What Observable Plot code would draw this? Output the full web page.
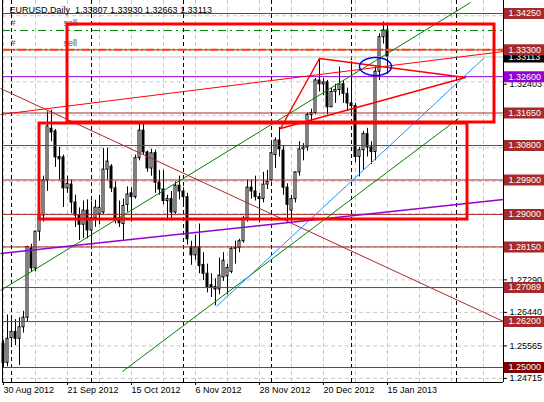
<!DOCTYPE html>
<html><head><meta charset="utf-8">
<script src="https://cdn.jsdelivr.net/npm/d3@7"></script>
<script src="https://cdn.jsdelivr.net/npm/@observablehq/plot@0.6"></script>
<style>
html,body{margin:0;padding:0;background:#fff;}
#chart svg{display:block;}
</style></head><body><div id="chart"></div>
<script>
// ---- data ----
const dates = ["2012-08-30","2012-08-31","2012-09-03","2012-09-04","2012-09-05","2012-09-06","2012-09-07",
"2012-09-10","2012-09-11","2012-09-12","2012-09-13","2012-09-14","2012-09-17","2012-09-18","2012-09-19","2012-09-20","2012-09-21",
"2012-09-24","2012-09-25","2012-09-26","2012-09-27","2012-09-28","2012-10-01","2012-10-02","2012-10-03","2012-10-04","2012-10-05",
"2012-10-08","2012-10-09","2012-10-10","2012-10-11","2012-10-12","2012-10-15","2012-10-16","2012-10-17","2012-10-18","2012-10-19",
"2012-10-22","2012-10-23","2012-10-24","2012-10-25","2012-10-26","2012-10-29","2012-10-30","2012-10-31","2012-11-01","2012-11-02",
"2012-11-05","2012-11-06","2012-11-07","2012-11-08","2012-11-09","2012-11-12","2012-11-13","2012-11-14","2012-11-15","2012-11-16",
"2012-11-19","2012-11-20","2012-11-21","2012-11-22","2012-11-23","2012-11-26","2012-11-27","2012-11-28","2012-11-29","2012-11-30",
"2012-12-03","2012-12-04","2012-12-05","2012-12-06","2012-12-07","2012-12-10","2012-12-11","2012-12-12","2012-12-13","2012-12-14",
"2012-12-17","2012-12-18","2012-12-19","2012-12-20","2012-12-21","2012-12-24","2012-12-26","2012-12-27","2012-12-28","2012-12-31",
"2013-01-02","2013-01-03","2013-01-04","2013-01-07","2013-01-08","2013-01-09","2013-01-10","2013-01-11","2013-01-14","2013-01-15"];
const open  = [1.2562,1.2512,1.2577,1.2593,1.2575,1.2605,1.2630,
1.2811,1.2759,1.2855,1.2897,1.2989,1.3124,1.3117,1.3050,1.3049,1.2968,
1.2978,1.2931,1.2897,1.2873,1.2910,1.2858,1.2890,1.2900,1.2905,1.3017,
1.3025,1.2968,1.2890,1.2875,1.2925,1.2955,1.2945,1.3047,1.3119,1.3062,
1.3020,1.3060,1.2983,1.2965,1.2935,1.2940,1.2905,1.2975,1.2960,1.2945,
1.2814,1.2793,1.2814,1.2768,1.2745,1.2715,1.2710,1.2704,1.2735,1.2738,
1.2750,1.2810,1.2812,1.2830,1.2889,1.2970,1.2960,1.2945,1.2940,1.2978,
1.2990,1.3055,1.3093,1.3067,1.2970,1.2910,1.2940,1.3010,1.3070,1.3075,
1.3160,1.3165,1.3250,1.3240,1.3245,1.3180,1.3220,1.3225,1.3240,1.3215,
1.3190,1.3183,1.3050,1.3068,1.3110,1.3075,1.3063,1.3273,1.3363,1.33807];
const high  = [1.2570,1.2637,1.2625,1.2625,1.2630,1.2647,1.2817,
1.2822,1.2856,1.2936,1.3000,1.3168,1.3172,1.3122,1.3075,1.3055,1.3000,
1.2990,1.2950,1.2917,1.2935,1.2938,1.2935,1.2937,1.2950,1.3072,1.3073,
1.3030,1.2985,1.2935,1.2940,1.2972,1.2970,1.3055,1.3140,1.3139,1.3066,
1.3070,1.3068,1.3015,1.3015,1.2950,1.2960,1.2985,1.3000,1.2970,1.2955,
1.2830,1.2845,1.2875,1.2800,1.2770,1.2745,1.2732,1.2786,1.2800,1.2770,
1.2815,1.2830,1.2835,1.2895,1.2990,1.2990,1.3000,1.2955,1.3010,1.3015,
1.3085,1.3100,1.3127,1.3080,1.2980,1.2950,1.3010,1.3090,1.3085,1.3165,
1.3175,1.3255,1.3308,1.3255,1.3250,1.3230,1.3240,1.3285,1.3250,1.3230,
1.3299,1.3190,1.3075,1.3117,1.3125,1.3090,1.3285,1.3372,1.3403,1.33930];
const low   = [1.2500,1.2502,1.2563,1.2557,1.2505,1.2590,1.2620,
1.2748,1.2750,1.2830,1.2880,1.2960,1.3090,1.3023,1.2989,1.2918,1.2955,
1.2902,1.2866,1.2832,1.2837,1.2836,1.2813,1.2866,1.2873,1.2900,1.2990,
1.2957,1.2875,1.2866,1.2830,1.2906,1.2880,1.2940,1.3040,1.3055,1.3010,
1.3000,1.2955,1.2950,1.2925,1.2883,1.2883,1.2900,1.2938,1.2920,1.2820,
1.2767,1.2780,1.2745,1.2727,1.2695,1.2683,1.2661,1.2690,1.2725,1.2690,
1.2745,1.2770,1.2800,1.2825,1.2880,1.2940,1.2935,1.2878,1.2930,1.2965,
1.2985,1.3020,1.3050,1.2950,1.2877,1.2880,1.2930,1.3000,1.3040,1.3065,
1.3135,1.3160,1.3220,1.3210,1.3160,1.3180,1.3190,1.3210,1.3190,1.3170,
1.3166,1.3035,1.2998,1.3015,1.3050,1.3030,1.3040,1.3250,1.3345,1.32663];
const close = [1.2512,1.2575,1.2593,1.2575,1.2605,1.2630,1.2815,
1.2759,1.2855,1.2897,1.2989,1.3130,1.3114,1.3049,1.3044,1.2968,1.2980,
1.2931,1.2897,1.2873,1.2910,1.2858,1.2890,1.2918,1.2917,1.3017,1.3038,
1.2968,1.2884,1.2877,1.2922,1.2952,1.2945,1.3047,1.3119,1.3062,1.3020,
1.3060,1.2983,1.2965,1.2935,1.2940,1.2905,1.2975,1.2960,1.2945,1.2835,
1.2793,1.2814,1.2765,1.2745,1.2710,1.2710,1.2704,1.2740,1.2779,1.2760,
1.2810,1.2812,1.2830,1.2889,1.2970,1.2960,1.2945,1.2940,1.2978,1.2985,
1.3060,1.3093,1.3070,1.2970,1.2925,1.2940,1.3010,1.3070,1.3075,1.3160,
1.3165,1.3250,1.3240,1.3245,1.3180,1.3220,1.3225,1.3240,1.3215,1.3190,
1.3183,1.3050,1.3068,1.3110,1.3075,1.3063,1.3273,1.3363,1.3381,1.33113];

const headerText = "EURUSD,Daily  1.33807 1.33930 1.32663 1.33113";
const dateTickIdx = [0, 16, 32, 48, 64, 80, 96];
const gridIdx = [0, 8, 16, 24, 32, 40, 48, 56, 64, 72, 80, 88, 96, 104, 112, 120];
const separatorIdx = [2, 22, 45, 67, 87, 113.25];
const gridPrices = [1.24715, 1.25565, 1.26440, 1.27290, 1.28150, 1.29015, 1.29865, 1.30740, 1.31590, 1.32465, 1.33315, 1.34190];
const axisLabelPrices = [1.24715, 1.25565, 1.26440, 1.27290, 1.32403];
const brownLevels = [1.34250, 1.33300, 1.31650, 1.30800, 1.29900, 1.29000, 1.28150, 1.27089, 1.26200, 1.25000];
const brownLabelLevels = [1.34250, 1.33300, 1.31650, 1.30800, 1.29900, 1.29000, 1.28150, 1.27089, 1.26200];
const maroonLabelLevels = [1.25000];
const purpleLevel = [1.32600];
const bidPrice = [1.33113];
const sellLimitLevel = [1.33807];
const sellStopLevel = [1.33300];

// drawn objects (index, price)
const brownTrend = [[-0.75, 1.32290], [125, 1.26202]];
const redTrend = [[-0.75, 1.31611], [125, 1.33257]];
const redTriangle = [[69.25, 1.31245], [79, 1.33074], [115.5, 1.32578], [69.25, 1.31245]];
const greenTrend1 = [[-0.75, 1.27012], [116.75, 1.34537]];
const greenTrend2 = [[29.75, 1.24895], [113.75, 1.31506]];
const blueTrend = [[53.25, 1.26594], [120, 1.33074]];
const purpleTrend = [[-0.75, 1.27979], [125, 1.29390]];
const rectTop = [[16, 1.33963], [122.75, 1.31402]];
const rectLow = [[9, 1.31376], [116, 1.28867]];
const ellipseCenter = [93, 1.32865];
const ellipseRadii = [4, 0.00235];

// ---- build ----
const candles = dates.map((d, i) => ({i, date: d, open: open[i], high: high[i], low: low[i], close: close[i]}));
const fmtDate = d3.utcFormat("%-d %b %Y");
const fmtP = d => d.toFixed(5);
const seg = s => [{x1: s[0][0], y1: s[0][1], x2: s[1][0], y2: s[1][1]}];
const ellipsePts = d3.range(0, 361, 6).map(a => [ellipseCenter[0] + ellipseRadii[0] * Math.cos(a * Math.PI / 180), ellipseCenter[1] + ellipseRadii[1] * Math.sin(a * Math.PI / 180)]);

const BROWN = "#a52a2a";
const boxX1 = 125.25, boxX2 = 135.25;

const chart = Plot.plot({
  width: 544, height: 402,
  marginTop: 0, marginBottom: 20, marginLeft: 2, marginRight: 41,
  style: {fontFamily: "'Liberation Sans', Arial, sans-serif", fontSize: "9px", background: "white", color: "black"},
  x: {type: "linear", domain: [-0.25, 125]},
  y: {type: "linear", domain: [1.246080, 1.345897]},
  marks: [
    // grid
    Plot.ruleX(gridIdx, {stroke: "#c8c8c8", strokeDasharray: "4,3"}),
    Plot.ruleY(gridPrices, {stroke: "#c8c8c8", strokeDasharray: "4,3"}),
    // period separators
    Plot.ruleX(separatorIdx, {stroke: "black", strokeDasharray: "4,3"}),
    // candles
    Plot.ruleX(candles, {x: "i", y1: "low", y2: "high", stroke: "black"}),
    Plot.rect(candles, {x1: d => d.i - 0.25, x2: d => d.i + 0.25, y1: "open", y2: "close",
      fill: d => d.close >= d.open ? "white" : "black", stroke: "black", inset: 0}),
    // horizontal objects
    Plot.ruleY(bidPrice, {stroke: "#c0c0c0"}),
    Plot.ruleY(brownLevels, {stroke: BROWN}),
    Plot.ruleY(purpleLevel, {stroke: "#9400d3"}),
    Plot.ruleY(sellLimitLevel, {stroke: "#008000", strokeDasharray: "8,4,2,4"}),
    Plot.ruleY(sellStopLevel, {stroke: "#ff4500", strokeWidth: 2, strokeDasharray: "8,3,2,3"}),
    Plot.text(["#"], {frameAnchor: "left", y: sellLimitLevel[0], dx: 8, dy: -7, fill: "#6b5a10"}),
    Plot.text(["sell"], {frameAnchor: "left", y: sellLimitLevel[0], dx: 61, dy: -7, fill: "#5a5a30"}),
    Plot.text(["#"], {frameAnchor: "left", y: sellStopLevel[0], dx: 8, dy: -7, fill: "#6b5a10"}),
    Plot.text(["sell"], {frameAnchor: "left", y: sellStopLevel[0], dx: 61, dy: -7, fill: "#5a5a30"}),
    // trend lines
    Plot.link(seg(brownTrend), {x1: "x1", y1: "y1", x2: "x2", y2: "y2", stroke: BROWN}),
    Plot.link(seg(greenTrend1), {x1: "x1", y1: "y1", x2: "x2", y2: "y2", stroke: "#008000"}),
    Plot.link(seg(greenTrend2), {x1: "x1", y1: "y1", x2: "x2", y2: "y2", stroke: "#008000"}),
    Plot.link(seg(blueTrend), {x1: "x1", y1: "y1", x2: "x2", y2: "y2", stroke: "#1e90ff"}),
    Plot.link(seg(purpleTrend), {x1: "x1", y1: "y1", x2: "x2", y2: "y2", stroke: "#9400d3", strokeWidth: 1.5}),
    Plot.link(seg(redTrend), {x1: "x1", y1: "y1", x2: "x2", y2: "y2", stroke: "red"}),
    Plot.line(redTriangle, {x: d => d[0], y: d => d[1], stroke: "red"}),
    Plot.line(ellipsePts, {x: d => d[0], y: d => d[1], stroke: "blue", curve: "linear"}),
    // rectangles
    Plot.rect(seg(rectTop), {x1: "x1", x2: "x2", y1: "y1", y2: "y2", stroke: "red", strokeWidth: 3, fill: "none"}),
    Plot.rect(seg(rectLow), {x1: "x1", x2: "x2", y1: "y1", y2: "y2", stroke: "red", strokeWidth: 3, fill: "none"}),
    // frame
    Plot.ruleX([-0.25, 125], {stroke: "black"}),
    Plot.ruleY([1.246080], {stroke: "black"}),
    // axes
    Plot.axisY({anchor: "right", ticks: axisLabelPrices, tickFormat: fmtP, tickSize: 3, tickPadding: 3, label: null, fontSize: 9}),
    Plot.axisX({ticks: dateTickIdx, tickFormat: i => fmtDate(new Date(dates[i])), textAnchor: "start", tickSize: 3, tickPadding: 1, label: null, fontSize: 9}),
    // price labels
    Plot.ruleY(bidPrice, {x1: boxX1, x2: boxX2, stroke: "black", strokeWidth: 11}),
    Plot.text(bidPrice, {x: boxX1, y: d => d, text: fmtP, textAnchor: "start", dx: 4, fill: "white"}),
    Plot.ruleY(purpleLevel, {x1: boxX1, x2: boxX2, stroke: "#9400d3", strokeWidth: 11}),
    Plot.text(purpleLevel, {x: boxX1, y: d => d, text: fmtP, textAnchor: "start", dx: 4, fill: "white"}),
    Plot.ruleY(brownLabelLevels, {x1: boxX1, x2: boxX2, stroke: BROWN, strokeWidth: 11}),
    Plot.text(brownLabelLevels, {x: boxX1, y: d => d, text: fmtP, textAnchor: "start", dx: 4, fill: "white"}),
    Plot.ruleY(maroonLabelLevels, {x1: boxX1, x2: boxX2, stroke: "#800000", strokeWidth: 11}),
    Plot.text(maroonLabelLevels, {x: boxX1, y: d => d, text: fmtP, textAnchor: "start", dx: 4, fill: "white"}),
    // header
    Plot.text([headerText], {frameAnchor: "top-left", dx: 7, dy: 6, lineAnchor: "top", fill: "black"})
  ]
});
document.getElementById("chart").appendChild(chart);
</script></body></html>
